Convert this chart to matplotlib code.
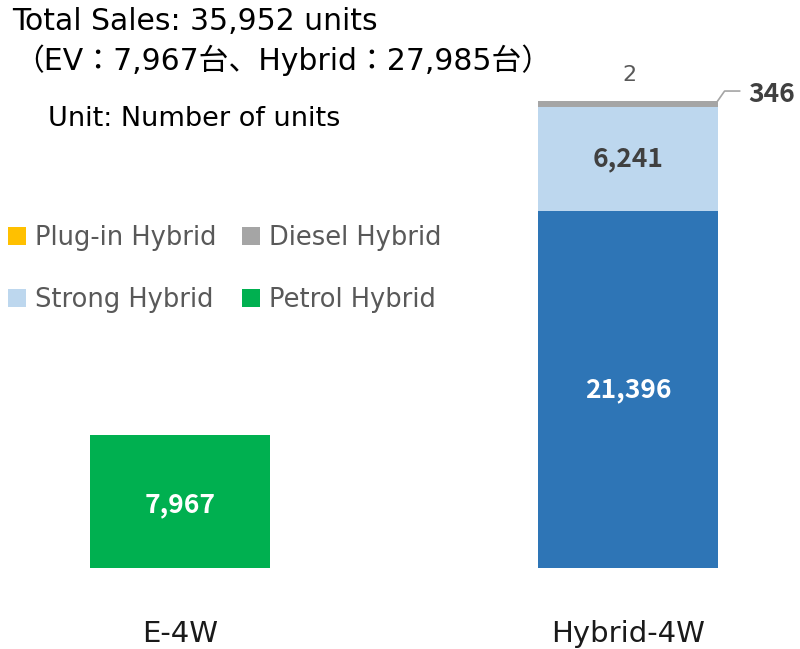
import numpy as np
import matplotlib
matplotlib.use('Agg')
import matplotlib.pyplot as plt

plt.rcParams['font.family'] = ['DejaVu Sans', 'Noto Sans CJK JP']

categories = ['E-4W', 'Hybrid-4W']
green_vals = [7967, 0]        # E-4W
dark_vals = [0, 21396]
strong_vals = [0, 6241]
diesel_vals = [0, 346]
plugin_vals = [0, 2]

title_lines = ['Total Sales: 35,952 units', '（EV：7,967台、Hybrid：27,985台）']
unit_text = 'Unit: Number of units'

c_green = '#00B050'
c_dark = '#2E75B6'
c_strong = '#BDD7EE'
c_diesel = '#A5A5A5'
c_plugin = '#FFC000'

fig = plt.figure(figsize=(8, 6.49), dpi=100)
ax = fig.add_axes([0, 0, 1, 1])

x = np.arange(len(categories))
w = 0.4
green = np.array(green_vals)
dark = np.array(dark_vals)
strong = np.array(strong_vals)
diesel = np.array(diesel_vals)
plugin = np.array(plugin_vals)

ax.bar(x, green, w, color=c_green, label='Petrol Hybrid')
ax.bar(x, dark, w, bottom=green, color=c_dark, label='_nolegend_')
b1 = green + dark
ax.bar(x, strong, w, bottom=b1, color=c_strong, label='Strong Hybrid')
b2 = b1 + strong
ax.bar(x, diesel, w, bottom=b2, color=c_diesel, label='Diesel Hybrid')
b3 = b2 + diesel
ax.bar(x, plugin, w, bottom=b3, color=c_plugin, label='Plug-in Hybrid')
top = b3 + plugin

# pixel mapping: 0 at 568px, 27985 at 101px
scale = (568 - 101) / top[1]
ax.set_xlim(-180 / 448, (800 - 180) / 448)
ax.set_ylim(-(649 - 568) / scale, 568 / scale)
ax.axis('off')

numfont = ['Noto Sans CJK JP', 'DejaVu Sans']
lbl = dict(ha='center', va='center', fontsize=19, fontweight='bold', family=numfont)
ax.text(x[0], green[0] / 2 - 180, f'{green[0]:,}', color='white', **lbl)
ax.text(x[1], dark[1] / 2, f'{dark[1]:,}', color='white', **lbl)
ax.text(x[1], b1[1] + strong[1] / 2, f'{strong[1]:,}', color='#404040', **lbl)

# small segments
ax.annotate(f'{plugin[1]:,}', (x[1], top[1]), xytext=(1, 19), textcoords='offset points',
            ha='center', va='center', fontsize=16, color='#595959')
xr = x[1] + w / 2
ax.annotate(f'{diesel[1]:,}', (xr, b3[1]), xytext=(22, 5), textcoords='offset points',
            ha='left', va='center', fontsize=19, fontweight='bold', color='#404040',
            family=numfont)
ax.plot([xr, xr + 7 / 448, xr + 22 / 448], [b3[1], b3[1] + 10 / scale, b3[1] + 10 / scale],
        color='#A5A5A5', lw=1.2)

for xi, cat in zip(x, categories):
    ax.text(xi, -(634 - 568) / scale, cat, ha='center', va='center', fontsize=21, color='#1a1a1a')

fig.text(12 / 800, 1 - 22 / 649, title_lines[0], ha='left', va='center', fontsize=21.5, color='black')
fig.text(14 / 800, 1 - 60 / 649, title_lines[1], ha='left', va='center', fontsize=21.5, color='black')
fig.text(48 / 800, 1 - 119 / 649, unit_text, ha='left', va='center', fontsize=19.5, color='black')

h, l = ax.get_legend_handles_labels()
order = ['Plug-in Hybrid', 'Strong Hybrid', 'Diesel Hybrid', 'Petrol Hybrid']
hh = [h[l.index(o)] for o in order]
leg = fig.legend(hh, order, ncol=2, loc='upper left', bbox_to_anchor=(-13 / 800, 1 - 204 / 649),
                 frameon=False, fontsize=18.5, labelcolor='#595959', handlelength=0.7,
                 handleheight=0.7, handletextpad=0.35, columnspacing=1.0, labelspacing=1.4,
                 borderpad=0.3)

fig.savefig('out.png', dpi=100)
